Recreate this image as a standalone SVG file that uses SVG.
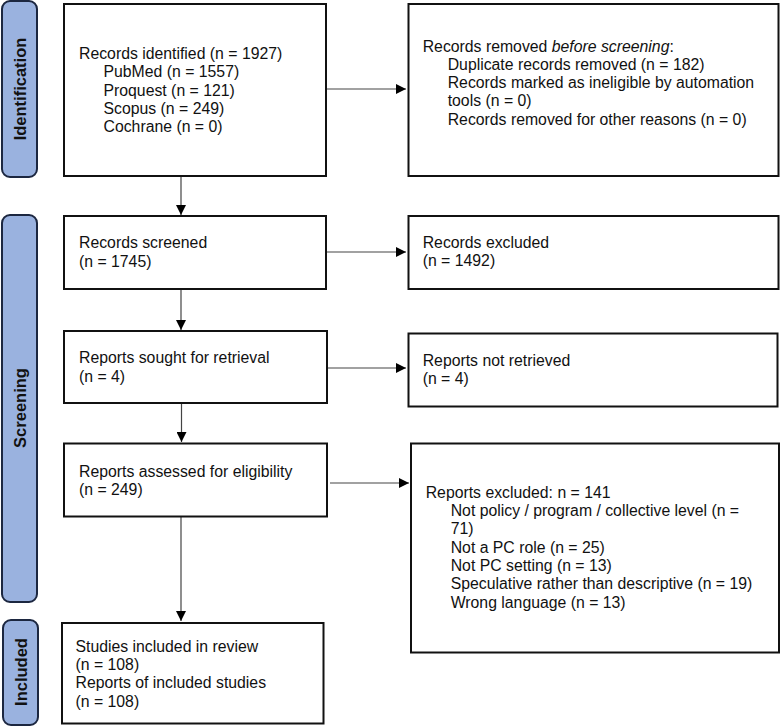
<svg xmlns="http://www.w3.org/2000/svg" width="780" height="727" viewBox="0 0 780 727">
<style>
.box{fill:#ffffff;stroke:#111111;stroke-width:2}
.side{fill:#9ab2df;stroke:#1c2740;stroke-width:2}
.t{font-family:"Liberation Sans",Arial,sans-serif;font-size:15.8px;fill:#111111}
.lab{font-family:"Liberation Sans",Arial,sans-serif;font-size:16.5px;font-weight:bold;fill:#111111;text-anchor:middle}
.c{stroke:#444444;stroke-width:1.2;fill:none;marker-end:url(#ah)}
</style>
<defs>
<marker id="ah" viewBox="0 0 10 10" refX="10" refY="5" markerWidth="10" markerHeight="10" markerUnits="userSpaceOnUse" orient="auto">
<path d="M0,0 L10,5 L0,10 z" fill="#000000"/>
</marker>
</defs>
<g id="phase-identification">
<rect class="side" x="2" y="1" width="35" height="176" rx="8"/>
<text class="lab" transform="translate(25.5,89) rotate(-90)">Identification</text>
</g>
<g id="phase-screening">
<rect class="side" x="2" y="215" width="35" height="387" rx="8"/>
<text class="lab" transform="translate(25.5,408) rotate(-90)">Screening</text>
</g>
<g id="phase-included">
<rect class="side" x="3" y="620" width="35" height="105" rx="8"/>
<text class="lab" transform="translate(26.5,672) rotate(-90)">Included</text>
</g>
<g id="connectors">
<line class="c" x1="326" y1="89" x2="406" y2="89"/>
<line class="c" x1="181" y1="176" x2="181" y2="215"/>
<line class="c" x1="326" y1="252" x2="406" y2="252"/>
<line class="c" x1="181" y1="289" x2="181" y2="330"/>
<line class="c" x1="328" y1="368" x2="406" y2="368"/>
<line class="c" x1="181.5" y1="403" x2="181.5" y2="442"/>
<line class="c" x1="330" y1="483" x2="409" y2="483"/>
<line class="c" x1="181" y1="517" x2="181" y2="621"/>
</g>
<g id="n-identified">
<rect class="box" x="64" y="4" width="262" height="172"/>
<text class="t" x="79" y="59">Records identified (n = 1927)</text>
<text class="t" x="103.5" y="77.3">PubMed (n = 1557)</text>
<text class="t" x="103.5" y="95.6">Proquest (n = 121)</text>
<text class="t" x="103.5" y="113.9">Scopus (n = 249)</text>
<text class="t" x="103.5" y="132.2">Cochrane (n = 0)</text>
</g>
<g id="n-removed">
<rect class="box" x="408.5" y="4" width="370" height="172"/>
<text class="t" x="422.7" y="51.5">Records removed <tspan font-style="italic">before screening</tspan>:</text>
<text class="t" x="447.7" y="69.8">Duplicate records removed (n = 182)</text>
<text class="t" x="447.7" y="88.1">Records marked as ineligible by automation</text>
<text class="t" x="447.7" y="106.4">tools (n = 0)</text>
<text class="t" x="447.7" y="124.7">Records removed for other reasons (n = 0)</text>
</g>
<g id="n-screened">
<rect class="box" x="64" y="216" width="262" height="73"/>
<text class="t" x="79" y="248.3">Records screened</text>
<text class="t" x="79" y="266.6">(n = 1745)</text>
</g>
<g id="n-excluded">
<rect class="box" x="408.5" y="216" width="370" height="73"/>
<text class="t" x="422.7" y="247.7">Records excluded</text>
<text class="t" x="422.7" y="266">(n = 1492)</text>
</g>
<g id="n-sought">
<rect class="box" x="64" y="331" width="263" height="72"/>
<text class="t" x="79" y="363.3">Reports sought for retrieval</text>
<text class="t" x="79" y="381.6">(n = 4)</text>
</g>
<g id="n-notretrieved">
<rect class="box" x="408.5" y="333.5" width="369" height="73"/>
<text class="t" x="422.7" y="365.7">Reports not retrieved</text>
<text class="t" x="422.7" y="384">(n = 4)</text>
</g>
<g id="n-assessed">
<rect class="box" x="64" y="443.5" width="263" height="73"/>
<text class="t" x="79" y="476.7">Reports assessed for eligibility</text>
<text class="t" x="79" y="495">(n = 249)</text>
</g>
<g id="n-reportsexcluded">
<rect class="box" x="411" y="443.5" width="368" height="209"/>
<text class="t" x="425.7" y="497.7">Reports excluded: n = 141</text>
<text class="t" x="450.7" y="516">Not policy / program / collective level (n =</text>
<text class="t" x="450.7" y="534.3">71)</text>
<text class="t" x="450.7" y="552.6">Not a PC role (n = 25)</text>
<text class="t" x="450.7" y="570.9">Not PC setting (n = 13)</text>
<text class="t" x="450.7" y="589.2">Speculative rather than descriptive (n = 19)</text>
<text class="t" x="450.7" y="607.5">Wrong language (n = 13)</text>
</g>
<g id="n-included">
<rect class="box" x="62" y="623" width="261.5" height="100.5"/>
<text class="t" x="75.5" y="651.7">Studies included in review</text>
<text class="t" x="75.5" y="670">(n = 108)</text>
<text class="t" x="75.5" y="688.3">Reports of included studies</text>
<text class="t" x="75.5" y="706.6">(n = 108)</text>
</g>
</svg>
